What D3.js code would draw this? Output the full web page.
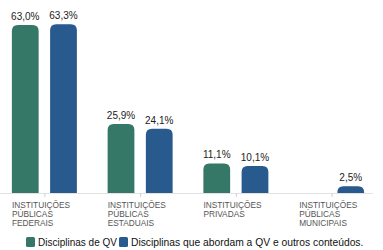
<!DOCTYPE html>
<html>
<head>
<meta charset="utf-8">
<script src="https://cdn.jsdelivr.net/npm/d3@7"></script>
<style>
  body { margin: 0; background: #fff; }
  svg { display: block; font-family: "Liberation Sans", Arial, sans-serif; }
</style>
</head>
<body>
<svg id="chart" width="383" height="250"></svg>
<script>
const categories = [
    ["INSTITUIÇÕES", "PÚBLICAS", "FEDERAIS"],
    ["INSTITUIÇÕES", "PÚBLICAS", "ESTADUAIS"],
    ["INSTITUIÇÕES", "PRIVADAS"],
    ["INSTITUIÇÕES", "PÚBLICAS", "MUNICIPAIS"]
];
const seriesNames = ["Disciplinas de QV", "Disciplinas que abordam a QV e outros conteúdos."];
const qvValues = [63.0, 25.9, 11.1, 0];
const otherValues = [63.3, 24.1, 10.1, 2.5];

const svg = d3.select("#chart"),
    width = +svg.attr("width"),
    baseY = 193;

const colors = ["#367868", "#285a8e"];

const x0 = d3.scaleBand()
    .domain(d3.range(categories.length))
    .range([-3.5, 379.5]);

const x1 = d3.scaleBand()
    .domain([0, 1])
    .range([-32.5, 32.5])
    .paddingInner(0.3);

const y = d3.scaleLinear()
    .domain([0, 63.3])
    .range([baseY, baseY - 168.8]);

const fmt = v => d3.format(".1f")(v).replace(".", ",") + "%";

// eixo
svg.append("line")
    .attr("x1", 0).attr("x2", 373)
    .attr("y1", baseY + 0.5).attr("y2", baseY + 0.5)
    .attr("stroke", "#e2e2e2");

categories.forEach((c, i) => {
    const cx = x0(i) + x0.bandwidth() / 2;
    svg.append("line")
        .attr("x1", cx + 0.5).attr("x2", cx + 0.5)
        .attr("y1", baseY).attr("y2", baseY + 4)
        .attr("stroke", "#d0d0d0");
});

// barras com cantos superiores arredondados
function barPath(x, w, top, bottom, r) {
    const h = bottom - top;
    if (h <= 0) return "";
    r = Math.min(r, h, w / 2);
    return `M${x},${bottom}V${top + r}Q${x},${top} ${x + r},${top}H${x + w - r}Q${x + w},${top} ${x + w},${top + r}V${bottom}Z`;
}

const groups = svg.selectAll(".group")
    .data(categories.map((c, i) => ({ i, values: [qvValues[i], otherValues[i]] })))
    .join("g")
    .attr("class", "group")
    .attr("transform", d => `translate(${x0(d.i) + x0.bandwidth() / 2},0)`);

groups.selectAll("path")
    .data(d => d.values.map((v, k) => ({ v, k })).filter(e => e.v > 0))
    .join("path")
    .attr("d", e => barPath(x1(e.k), x1.bandwidth(), y(e.v), baseY, 6))
    .attr("fill", e => colors[e.k]);

groups.selectAll("text.val")
    .data(d => d.values.map((v, k) => ({ v, k })).filter(e => e.v > 0))
    .join("text")
    .attr("class", "val")
    .attr("x", e => x1(e.k) + x1.bandwidth() / 2)
    .attr("y", e => y(e.v) - 5)
    .attr("text-anchor", "middle")
    .style("font-size", "10px")
    .style("fill", "#222")
    .text(e => fmt(e.v));

// rótulos das categorias
groups.each(function(d) {
    const t = d3.select(this).append("text")
        .attr("x", x1(0))
        .attr("y", 208)
        .style("font-size", "8.3px")
        .style("fill", "#555");
    categories[d.i].forEach((line, j) => {
        t.append("tspan")
            .attr("x", x1(0))
            .attr("dy", j === 0 ? 0 : 9)
            .text(line);
    });
});

// legenda
const legendX = [26, 119];
const legendSize = ["10px", "10.3px"];
seriesNames.forEach((name, k) => {
    const g = svg.append("g").attr("transform", `translate(${legendX[k]},237)`);
    g.append("rect")
        .attr("width", 9).attr("height", 10)
        .attr("rx", 1.5)
        .attr("fill", colors[k]);
    g.append("text")
        .attr("x", 12).attr("y", 9)
        .style("font-size", legendSize[k])
        .style("fill", "#111")
        .text(name);
});
</script>
</body>
</html>
